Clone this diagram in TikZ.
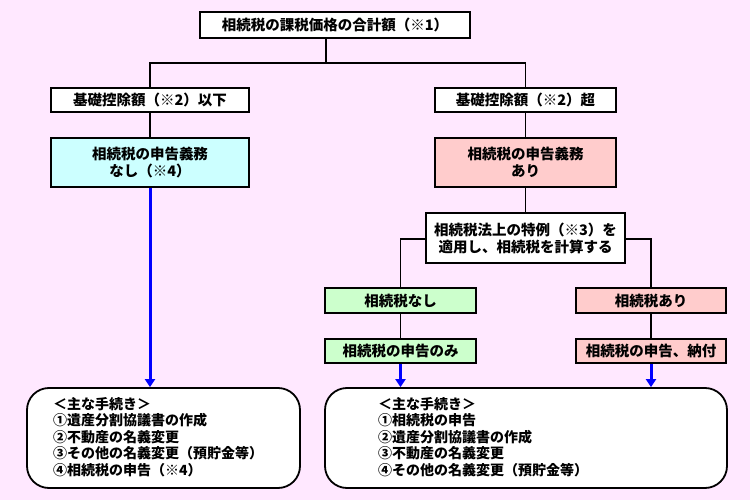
\documentclass[tikz,border=0pt]{standalone}
\usepackage{fontspec}
\setmainfont{Noto Sans CJK JP}
\usetikzlibrary{arrows.meta}
\definecolor{bgpink}{RGB}{255,232,255}
\definecolor{boxcyan}{RGB}{204,255,255}
\definecolor{boxpink}{RGB}{255,204,204}
\definecolor{boxgreen}{RGB}{204,255,204}
\definecolor{arrowblue}{RGB}{0,0,255}
\tikzset{
  box/.style={draw=black, line width=1.8pt, fill=white, inner sep=0pt, align=center,
    font=\fontsize{14.5}{17}\selectfont\bfseries},
  cyanbox/.style={box, fill=boxcyan},
  pinkbox/.style={box, fill=boxpink},
  greenbox/.style={box, fill=boxgreen},
  roundbox/.style={draw=black, line width=1.8pt, fill=white, rounded corners=22pt, inner sep=0pt},
  listtext/.style={align=left, inner sep=0pt, anchor=north west, font=\fontsize{14}{16.5}\selectfont\bfseries},
  conn/.style={draw=black, line width=1.5pt},
  bluearrow/.style={draw=arrowblue, line width=3pt, -{Triangle[width=10pt,length=8pt]}}
}
\begin{document}
\begin{tikzpicture}[x=1pt,y=-1pt]
\fill[bgpink] (0,0) rectangle (750,500);
\useasboundingbox (0,0) rectangle (750,500);

\node[box, minimum width=270pt, minimum height=26pt] (top) at (335,25) {相続税の課税価格の合計額（※1）};

\node[box, minimum width=198pt, minimum height=24pt] (lo) at (150,100) {基礎控除額（※2）以下};
\node[box, minimum width=181pt, minimum height=24pt] (hi) at (525.5,100) {基礎控除額（※2）超};

\node[cyanbox, minimum width=198pt, minimum height=49pt] (nodecl) at (150,162.5) {相続税の申告義務\\なし（※4）};
\node[pinkbox, minimum width=181pt, minimum height=49pt] (decl) at (525.5,162.5) {相続税の申告義務\\あり};

\node[box, minimum width=199pt, minimum height=50pt] (calc) at (525.5,238) {相続税法上の特例（※3）を\\適用し、相続税を計算する};

\node[greenbox, minimum width=151pt, minimum height=25pt] (notax) at (400.5,300.5) {相続税なし};
\node[greenbox, minimum width=151pt, minimum height=24pt] (declonly) at (400.5,351) {相続税の申告のみ};
\node[pinkbox, minimum width=150pt, minimum height=25pt] (tax) at (651,300.5) {相続税あり};
\node[pinkbox, minimum width=150pt, minimum height=24pt] (declpay) at (651,351) {相続税の申告、納付};

\node[roundbox, minimum width=273pt, minimum height=100pt] (proc1) at (163.5,438) {};
\node[roundbox, minimum width=402pt, minimum height=100pt] (proc2) at (526,438) {};

\node[listtext] (list1) at (53,397) {＜主な手続き＞\\①遺産分割協議書の作成\\②不動産の名義変更\\③その他の名義変更（預貯金等）\\④相続税の申告（※4）};
\node[listtext] (list2) at (378,397) {＜主な手続き＞\\①相続税の申告\\②遺産分割協議書の作成\\③不動産の名義変更\\④その他の名義変更（預貯金等）};

% connectors
\coordinate (j1) at (326,63);
\coordinate (jl) at (150,63);
\coordinate (jr) at (525.5,63);
\draw[conn] (top.south -| j1) -- (j1);
\draw[conn] (lo.north) -- (jl) -- (jr) -- (hi.north);
\draw[conn] (lo.south) -- (nodecl.north);
\draw[conn] (hi.south) -- (decl.north);
\draw[conn] (decl.south) -- (calc.north);
\coordinate (bl) at (400.5,239);
\coordinate (br) at (651,239);
\draw[conn] (calc.west |- bl) -- (bl) -- (notax.north);
\draw[conn] (calc.east |- br) -- (br) -- (tax.north);
\draw[conn] (notax.south) -- (declonly.north);
\draw[conn] (tax.south) -- (declpay.north);

\draw[bluearrow] (nodecl.south) -- (proc1.north -| nodecl.south);
\draw[bluearrow] (declonly.south) -- (proc2.north -| declonly.south);
\draw[bluearrow] (declpay.south) -- (proc2.north -| declpay.south);
\end{tikzpicture}
\end{document}
